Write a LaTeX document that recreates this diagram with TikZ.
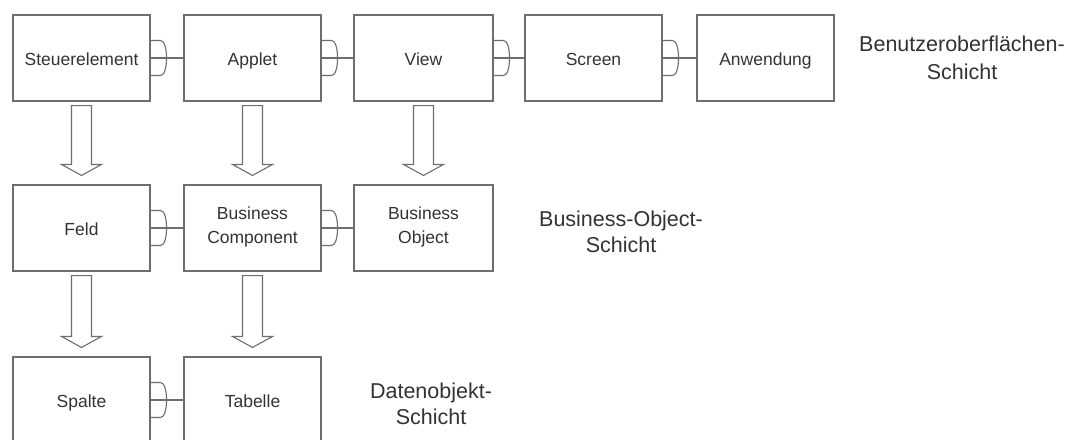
\documentclass[tikz,border=0pt]{standalone}
\usepackage{fontspec}
\setmainfont{Liberation Sans}
\usetikzlibrary{calc}

\definecolor{edge}{HTML}{6E6E6E}
\definecolor{ink}{HTML}{333333}

% fixed line box so every label sits on the same baseline
\newcommand\linebox{\rule[-5pt]{0pt}{24pt}}

\tikzset{
  unit/.style={draw=edge, line width=1.1pt, minimum width=137pt, minimum height=86pt,
    inner sep=0pt, align=center, text=ink, font=\fontsize{17.5}{24}\selectfont,
    execute at begin node=\linebox, execute at end node=\linebox},
  layer/.style={align=center, text=ink, font=\fontsize{21.5}{26}\selectfont},
  wire/.style={draw=edge, line width=1.1pt},
  hollow/.style={draw=edge, line width=1.1pt, fill=white, line join=miter},
}

% socket-style interface link: a "}" bracket on the provider plus a line to the client
\newcommand\ifacelink[2]{%
  \draw[wire] ($(#1.east)+(0,-17.5)$) -- ++(10,0)
      .. controls ++(4,0) and ++(0,-9) .. ++(6,17.5)
      .. controls ++(0,9) and ++(4,0) .. ++(-6,17.5) -- ++(-10,0);
  \draw[wire] (#1.east) -- (#2.west);
}

% hollow block arrow pointing down from one node to the next
\newcommand\blockdown[2]{%
  \draw[hollow] let \p1=($(#1.south)+(0,4)$), \p2=($(#2.north)+(0,-9)$) in
    (\x1-10pt,\y1) -- (\x1-10pt,\y2+11pt) -- (\x1-20pt,\y2+11pt) -- (\x1,\y2)
    -- (\x1+20pt,\y2+11pt) -- (\x1+10pt,\y2+11pt) -- (\x1+10pt,\y1) -- cycle;
}

\begin{document}
\begin{tikzpicture}[x=1pt, y=-1pt]
  \useasboundingbox (0,0) rectangle (1081,439);
  \fill[white] (0,0) rectangle (1081,439);
  \clip (0,0) rectangle (1081,439);

  % user interface layer
  \node[unit] (steuer) at (81.5,58)  {Steuerelement};
  \node[unit] (applet) at (252.5,58) {Applet};
  \node[unit, minimum width=139pt] (view) at (423.5,58) {View};
  \node[unit] (screen) at (593.5,58) {Screen};
  \node[unit] (anw)    at (765.5,58) {Anwendung};
  \node[layer] (ui) at (962,58) {Benutzeroberflächen-\\[2pt]Schicht};

  % business object layer
  \node[unit] (feld) at (81.5,228)  {Feld};
  \node[unit] (bc)   at (252.5,228) {Business\\Component};
  \node[unit, minimum width=139pt] (bo) at (423.5,228) {Business\\Object};
  \node[layer] (bol) at (621,232) {Business-Object-\\Schicht};

  % data object layer
  \node[unit] (spalte)  at (81.5,400)  {Spalte};
  \node[unit] (tabelle) at (252.5,400) {Tabelle};
  \node[layer] (dol) at (431,404) {Datenobjekt-\\Schicht};

  % interface links
  \ifacelink{steuer}{applet}
  \ifacelink{applet}{view}
  \ifacelink{view}{screen}
  \ifacelink{screen}{anw}
  \ifacelink{feld}{bc}
  \ifacelink{bc}{bo}
  \ifacelink{spalte}{tabelle}

  % mappings between layers
  \blockdown{steuer}{feld}
  \blockdown{applet}{bc}
  \blockdown{view}{bo}
  \blockdown{feld}{spalte}
  \blockdown{bc}{tabelle}
\end{tikzpicture}
\end{document}
